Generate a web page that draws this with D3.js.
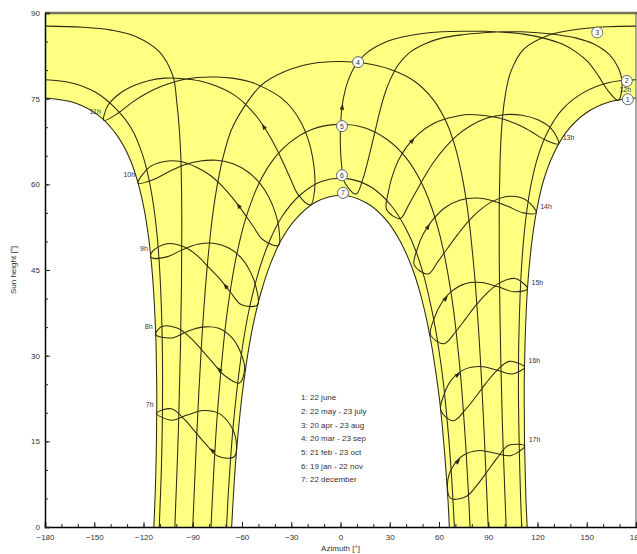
<!DOCTYPE html>
<html><head><meta charset="utf-8">
<script src="https://cdn.jsdelivr.net/npm/d3@7"></script>
<style>
body{margin:0;background:#fff}
text{font-family:"Liberation Sans",Arial,sans-serif;fill:#333}
</style>
</head><body><div id="chart"></div>
<script>
// sun paths, [azimuth, height]
const c1a = [[-113.7,0],[-113,4.8],[-112.5,9.3],[-112.2,13.9],[-112,18.5],[-111.9,23.1],[-112.1,27.6],[-112.4,32.2],[-113,36.8],[-113.9,41.5],[-115.2,46.3],[-117,50.9],[-119.5,55.5],[-123,59.9],[-128.2,64.4],[-135.7,68.4],[-146.7,71.9],[-161.2,74.2],[-180,75.1]];
const c1b = [[180,75.1],[163.6,74.4],[149.1,72.4],[137.4,69.1],[129.4,65.1],[123.8,60.8],[120,56.2],[117.3,51.6],[115.4,46.9],[114,42.2],[113.1,37.5],[112.5,32.9],[112.1,28.3],[111.9,23.8],[112,19.2],[112.1,14.6],[112.5,10],[112.9,5.4],[113.7,0]];
const c2a = [[-110.4,0],[-109.8,4.6],[-109.2,9.3],[-108.8,14],[-108.5,18.6],[-108.4,23.3],[-108.4,28],[-108.6,32.7],[-109,37.4],[-109.6,42],[-110.5,46.7],[-111.8,51.3],[-113.7,55.9],[-116.5,60.6],[-120.5,65.1],[-126.6,69.4],[-136.7,73.2],[-149.7,76.2],[-164.3,77.8],[-180,78.3]];
const c2b = [[180,78.3],[163.2,77.8],[148.2,76.1],[135.4,73.2],[126.2,69.2],[120.3,64.9],[116.3,60.3],[113.6,55.6],[111.8,51.1],[110.5,46.5],[109.6,41.8],[109,37.1],[108.6,32.5],[108.4,27.8],[108.4,23.1],[108.6,18.4],[108.9,13.7],[109.3,9.1],[109.8,4.4],[110.4,0]];
const c3a = [[-100.9,0],[-100.3,4.6],[-99.7,9.2],[-99.1,13.9],[-98.6,18.5],[-98.2,23.1],[-97.8,27.8],[-97.4,32.4],[-97.2,37.1],[-96.9,41.7],[-96.8,46.4],[-96.7,51.1],[-96.7,55.7],[-96.9,60.4],[-97.3,65],[-98.2,69.7],[-99.7,74.3],[-102,78.9],[-110.3,83.2],[-124.8,85.9],[-139.6,87],[-156.9,87.5],[-180,87.7]];
const c3b = [[180,87.7],[162.3,87.6],[143.3,87.1],[126.8,86.1],[111.8,83.7],[103.7,79.7],[100.1,75.1],[98.3,70.4],[97.4,65.8],[97,61.1],[96.7,56.5],[96.7,51.8],[96.7,47.1],[96.9,42.5],[97.1,37.8],[97.4,33.2],[97.7,28.5],[98.1,23.9],[98.5,19.2],[99,14.6],[99.6,10],[100.2,5.3],[100.9,0]];
const c4 = [[-90,0],[-89.3,4.7],[-88.6,9.4],[-87.9,14.1],[-87.1,18.8],[-86.3,23.5],[-85.4,28.2],[-84.5,32.8],[-83.4,37.5],[-82.2,42.2],[-80.8,46.8],[-79.2,51.4],[-77.2,56],[-74.6,60.6],[-71.2,65.1],[-66.5,69.5],[-59.3,73.3],[-48.5,77.3],[-34.3,79.7],[-18,81.1],[-1.7,81.5],[14.9,81.2],[30.6,80.1],[45.3,78],[56.8,74.7],[64.9,70.6],[70.1,66.3],[73.8,61.8],[76.6,57.2],[78.7,52.7],[80.4,48],[81.9,43.4],[83.1,38.7],[84.2,34.1],[85.2,29.4],[86.1,24.7],[86.9,20],[87.7,15.3],[88.4,10.6],[89.1,5.9],[90,0]];
const c5 = [[-78.9,0],[-78.1,4.6],[-77.3,9.2],[-76.4,13.8],[-75.4,18.3],[-74.1,23.1],[-72.7,27.8],[-71.1,32.5],[-69.2,37.2],[-66.9,41.8],[-64.2,46.3],[-60.7,50.9],[-56.3,55.3],[-50.4,59.7],[-42.3,63.8],[-31.4,67.2],[-17.5,69.6],[-1.8,70.5],[14.6,69.9],[28.6,67.8],[40.1,64.6],[48.8,60.6],[55.1,56.3],[59.8,51.9],[63.4,47.4],[66.4,42.7],[68.8,38.1],[70.7,33.5],[72.4,28.8],[73.9,24],[75.1,19.3],[76.2,14.7],[77.1,10.2],[78,5.6],[78.9,0]];
const c6 = [[-69.4,0],[-68.6,4.6],[-67.6,9.2],[-66.5,13.7],[-65.1,18.5],[-63.4,23.2],[-61.5,27.8],[-59.3,32.3],[-56.5,36.9],[-52.9,41.5],[-48.6,45.9],[-42.9,50.3],[-35.5,54.4],[-25.1,58],[-11.7,60.5],[4.1,61],[19.3,59.4],[31.1,56.2],[39.7,52.3],[46.2,48.1],[51,43.7],[54.8,39.1],[57.9,34.6],[60.5,29.9],[62.6,25.4],[64.3,20.7],[65.8,16],[67.1,11.2],[68.1,6.7],[69,2.1],[69.4,0]];
const c7 = [[-66.3,0],[-65.4,4.7],[-64.4,9.4],[-63.1,14.1],[-61.6,18.7],[-59.9,23.2],[-57.7,27.9],[-55.2,32.4],[-52,37],[-48,41.5],[-42.9,45.9],[-36.2,50.2],[-27.3,53.9],[-15,56.9],[0.6,58.1],[16.2,56.7],[28.3,53.6],[37,49.7],[43.6,45.4],[48.5,41],[52.4,36.4],[55.5,31.8],[58,27.2],[60.2,22.6],[61.9,18],[63.3,13.4],[64.5,8.8],[65.6,4.1],[66.3,0]];

// hour lines (legal time), one loop over the year starting at 22 june
const h7 = [[-112,19.9],[-103,18.7],[-93.4,19.6],[-83.7,20.4],[-74.1,19.9],[-67,17.8],[-63.6,15.1],[-64.7,12.3],[-74.6,12.4],[-82,14.5],[-88.6,16.7],[-95.2,18.9],[-103,20.7]];
const h8 = [[-112.6,33.7],[-103,33.1],[-93.7,34.2],[-84.3,35],[-74.2,34.8],[-66,33.1],[-60.9,30.6],[-58.4,27.8],[-61.6,25.2],[-70.5,26.5],[-77.5,28.7],[-83.9,30.8],[-90.9,33],[-99.1,34.8],[-108.8,35.1]];
const h9 = [[-115.5,47.2],[-105.8,47.3],[-96.6,48.5],[-87,49.5],[-77.2,49.7],[-67.7,48.8],[-60.1,47],[-54.6,44.5],[-51.2,41.7],[-50.5,38.9],[-60.3,38.9],[-67,41.1],[-73.4,43.4],[-80.4,45.5],[-87.6,47.6],[-95.8,49.1],[-105.7,49.6],[-114.4,48.3]];
const h10 = [[-123.3,60.2],[-113.5,60.9],[-104.6,62.2],[-95.4,63.4],[-85.3,64.1],[-75.4,64.2],[-65.5,63.6],[-56.5,62.2],[-49.2,60.2],[-43.7,57.8],[-39.8,55.1],[-37.5,52.2],[-37.8,49.3],[-47.2,50.3],[-53.3,52.7],[-59.1,55.1],[-65.4,57.5],[-71.8,59.6],[-79,61.5],[-87.7,63],[-97.4,64],[-107.2,64],[-116.4,63]];
const h11 = [[-144.1,71.2],[-135.3,72.5],[-127.2,74.3],[-118.3,75.9],[-108.7,77.2],[-98.2,78.2],[-87.5,78.7],[-75.8,78.8],[-65.9,78.6],[-54.7,77.9],[-45.7,76.8],[-35.9,75.1],[-29.1,73.1],[-23.6,70.6],[-19.5,67.7],[-17.1,64.9],[-15.8,62.1],[-15.7,59.2],[-18.2,56.4],[-25.8,58.2],[-30.2,60.8],[-34.6,63.6],[-38.9,66.2],[-44.1,68.9],[-49.8,71.4],[-57.1,73.8],[-65.1,75.7],[-75.7,77.2],[-85.5,78.1],[-95.8,78.5],[-106.6,78.6],[-116.4,78.2],[-125.8,77.3],[-134.5,75.9],[-141.7,73.8]];
const h12 = [[169.1,74.7],[171.6,77.5],[169.2,80.4],[163.8,82.7],[154,84.6],[143.7,85.6],[132.1,86.2],[122,86.5],[110.3,86.7],[97.7,86.7],[85.4,86.5],[74.5,86.2],[61.6,85.6],[52.3,84.7],[42.2,83.1],[35.1,80.9],[30.1,78.2],[26.7,75.6],[23.8,72.6],[21.4,69.7],[18.9,66.7],[16.4,63.8],[13.6,60.9],[9.5,58.3],[2.4,60.4],[0.7,63.3],[0,66.2],[-0.1,69.2],[0.4,72.1],[1.8,75.1],[4.7,78.2],[9.3,80.9],[16.3,83.1],[26.6,84.8],[36.3,85.7],[50,86.4],[61.6,86.7],[74.8,86.8],[87.8,86.8],[100.8,86.6],[111.4,86.3],[123.7,85.6],[134.7,84.6],[143.4,83.2],[150.9,81.4],[157.3,78.9],[162.7,76.5]];
const h13 = [[132.9,67.1],[128.5,69.7],[120.2,71.3],[110.5,72.1],[99.6,72.2],[89.3,71.6],[79.5,70.3],[70.7,68.5],[63.3,66.3],[57,64],[51.7,61.6],[46.6,59],[41.5,56.4],[36.3,54],[28.1,55.6],[29.1,58.6],[31.5,61.4],[35.3,64.2],[40.4,66.6],[47.4,68.8],[56.4,70.6],[65.8,71.6],[76,72.2],[86.1,72.1],[96.8,71.6],[106.9,70.6],[115.8,69.3],[124.6,67.8]];
const h14 = [[119.2,55],[113.3,57.2],[103.4,57.9],[93.3,57.1],[84.9,55.5],[77.5,53.4],[71.3,51.2],[65.2,48.8],[59.4,46.5],[53.3,44.3],[44.9,45.9],[46.8,48.7],[50.4,51.3],[56.5,53.9],[63.6,55.9],[72.6,57.2],[83,57.6],[93.2,57.1],[102.3,56.1],[111.4,55]];
const h15 = [[113.9,41.7],[106.4,43.5],[96.7,42.7],[89.1,40.9],[82.4,38.8],[76.1,36.4],[69.9,34.1],[63.1,32.1],[54.9,33.6],[56.9,36.4],[61.1,39],[67.4,41.2],[75.9,42.6],[85.8,42.8],[95.6,42.1],[105.4,41.2]];
const h16 = [[112.1,28],[102.7,29],[94.9,27.3],[88.4,25.1],[82.4,22.8],[76.2,20.6],[68.8,18.6],[61.1,20.4],[63.2,23.3],[67.7,25.8],[75.5,27.6],[85.3,28.1],[95.1,27.5],[104.7,26.8]];
const h17 = [[112.2,14.2],[102.4,14.3],[95.5,12.1],[89.6,9.8],[83.6,7.5],[76.8,5.4],[67.2,5],[65.2,7.7],[68.3,10.5],[75.1,12.6],[84.6,13.4],[94.4,12.9],[104,12.5]];

const hourLines = [h7,h8,h9,h10,h11,h12,h13,h14,h15,h16,h17];
const hourNames = ["7h","8h","9h","10h","11h","12h","13h","14h","15h","16h","17h"];
const arrowSeg = [8,9,11,15,23,28,18,12,10,9,8];

const dateCurves = [c1a,c1b,c2a,c2b,c3a,c3b,c4,c5,c6,c7];
const dateNames = ["1","2","3","4","5","6","7"];
const datePos = [[175,74.9],[174.4,78.1],[156.4,86.6],[10.7,81.4],[0.9,70.2],[0.9,61.6],[1.5,58.5]];
const legend = ["1: 22 june","2: 22 may - 23 july","3: 20 apr - 23 aug","4: 20 mar - 23 sep","5: 21 feb - 23 oct","6: 19 jan - 22 nov","7: 22 december"];

const xTicks = d3.range(-180,181,30), xMinor = d3.range(-180,181,10);
const yTicks = d3.range(0,91,15), yMinor = d3.range(0,91,5);

const W=637,H=554,m={top:13,right:1,bottom:27,left:45};
const ink="#2b2b12";
const svg=d3.select('#chart').append('svg').attr('width',W).attr('height',H);
const x=d3.scaleLinear().domain([-180,180]).range([m.left,W-m.right]);
const y=d3.scaleLinear().domain([0,90]).range([H-m.bottom,m.top]);

const open=d3.line().x(d=>x(d[0])).y(d=>y(d[1])).curve(d3.curveCatmullRom.alpha(0.5));
const closed=d3.line().x(d=>x(d[0])).y(d=>y(d[1])).curve(d3.curveCatmullRomClosed.alpha(0.5));
const straight=d3.line().x(d=>x(d[0])).y(d=>y(d[1]));
const cont=s=>s.replace(/^M/,'L');

// yellow band: between the june and the december paths
const band = open(c1a)
  + cont(straight([[-180,75.1],[-180,90],[180,90],[180,75.1]]))
  + cont(open(c1b))
  + cont(straight([c1b[c1b.length-1],[c7[c7.length-1][0],0]]))
  + cont(open(c7.slice().reverse())) + 'Z';
svg.append('path').attr('d',band).attr('fill','#ffff82').attr('stroke','none');

const g=svg.append('g').attr('fill','none').attr('stroke',ink).attr('stroke-width',1.05);
dateCurves.forEach(c=>g.append('path').attr('d',open(c)));
hourLines.forEach(c=>g.append('path').attr('d',closed(c)));

// small direction arrows along the hour lines
hourLines.forEach((c,i)=>{
  const a=c[arrowSeg[i]], b=c[(arrowSeg[i]+1)%c.length];
  const px=(x(a[0])+x(b[0]))/2, py=(y(a[1])+y(b[1]))/2;
  const ang=Math.atan2(y(b[1])-y(a[1]),x(b[0])-x(a[0]))*180/Math.PI;
  svg.append('path').attr('d','M3,0L-3,-2.2L-3,2.2Z')
    .attr('transform',`translate(${px},${py}) rotate(${ang})`).attr('fill',ink);
});

// hour labels next to the 22 june point
hourLines.forEach((c,i)=>{
  const p=c[0], left=p[0]<0, edge=x(p[0])>590;
  const t=svg.append('text').attr('font-size',7).text(hourNames[i]);
  if(left) t.attr('x',x(p[0])-3).attr('y',y(p[1])-6).attr('text-anchor','end');
  else if(edge) t.attr('x',x(p[0])+13).attr('y',y(p[1])-8).attr('text-anchor','end');
  else t.attr('x',x(p[0])+4).attr('y',y(p[1])-4);
});

// date numbers in small circles
const lab=svg.append('g');
datePos.forEach((p,i)=>{
  lab.append('circle').attr('cx',x(p[0])).attr('cy',y(p[1])).attr('r',5.5)
    .attr('fill','#fff').attr('stroke','#666').attr('stroke-width',1);
  lab.append('text').attr('x',x(p[0])).attr('y',y(p[1])+2.5).attr('text-anchor','middle')
    .attr('font-size',7).text(dateNames[i]);
});

// frame
svg.append('line').attr('x1',m.left).attr('x2',W).attr('y1',m.top).attr('y2',m.top)
  .attr('stroke','#74745a').attr('stroke-width',2.5);
svg.append('line').attr('x1',W-m.right).attr('x2',W-m.right).attr('y1',m.top).attr('y2',H-m.bottom)
  .attr('stroke','#555').attr('stroke-width',1);

// axes with inward ticks
svg.append('g').attr('transform',`translate(0,${H-m.bottom})`)
  .call(d3.axisBottom(x).tickValues(xTicks).tickSize(-5).tickPadding(7).tickFormat(d3.format('d')));
svg.append('g').attr('transform',`translate(0,${H-m.bottom})`)
  .call(d3.axisBottom(x).tickValues(xMinor).tickSize(-3).tickFormat(''))
  .call(s=>s.select('.domain').remove());
svg.append('g').attr('transform',`translate(${m.left},0)`)
  .call(d3.axisLeft(y).tickValues(yTicks).tickSize(-5).tickPadding(5));
svg.append('g').attr('transform',`translate(${m.left},0)`)
  .call(d3.axisLeft(y).tickValues(yMinor).tickSize(-3).tickFormat(''))
  .call(s=>s.select('.domain').remove());
svg.selectAll('.domain').attr('stroke','#000').attr('stroke-width',1.5);
svg.selectAll('.tick line').attr('stroke','#222');
svg.selectAll('.tick text').attr('font-size',8).attr('fill','#444')
  .attr('font-family','"Liberation Sans",Arial,sans-serif');

svg.append('text').attr('x',x(0)).attr('y',H-3).attr('text-anchor','middle').attr('font-size',8).text('Azimuth [°]');
svg.append('text').attr('transform',`translate(16,${y(45)}) rotate(-90)`).attr('text-anchor','middle')
  .attr('font-size',8).text('Sun height [°]');

// legend
legend.forEach((t,i)=>svg.append('text').attr('x',x(-24)).attr('y',y(22.2)+i*13.7)
  .attr('font-size',8).text(t));
</script></body></html>
